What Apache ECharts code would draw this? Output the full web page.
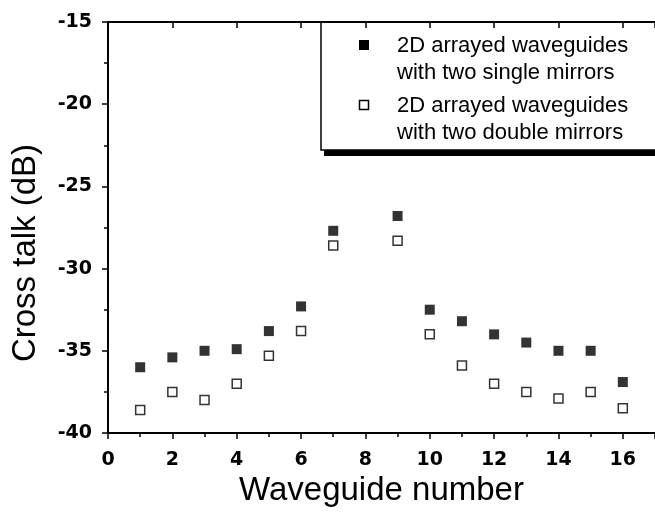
<!DOCTYPE html>
<html>
<head>
<meta charset="utf-8">
<script src="https://cdn.jsdelivr.net/npm/echarts@6/dist/echarts.min.js"></script>
<style>
    html,body{margin:0;padding:0;background:#fff;}
    #chart{width:655px;height:518px;}
</style>
</head>
<body>
<div id="chart"></div>
<script>
// waveguide numbers (no point at 8)
const waveguides = [1, 2, 3, 4, 5, 6, 7, 9, 10, 11, 12, 13, 14, 15, 16];
const singleMirrors = [-36.0, -35.4, -35.0, -34.9, -33.8, -32.3, -27.7, -26.8, -32.5, -33.2, -34.0, -34.5, -35.0, -35.0, -36.9];
const doubleMirrors = [-38.6, -37.5, -38.0, -37.0, -35.3, -33.8, -28.6, -28.3, -34.0, -35.9, -37.0, -37.5, -37.9, -37.5, -38.5];
const legendNames = ["2D arrayed waveguides\nwith two single mirrors", "2D arrayed waveguides\nwith two double mirrors"];

const font = "Liberation Sans, Arial, sans-serif";
const tickFont = "DejaVu Sans, sans-serif";
let chart = echarts.init(document.getElementById("chart"));

function pairs(xs, ys){
    return xs.map((x, i) => [x, ys[i]]);
}

chart.setOption({
    animation: false,
    backgroundColor: "#fff",
    grid: { left: 108, top: 22, width: 549, height: 411 },
    xAxis: [
        {
            type: "value", min: 0, max: 17, interval: 2,
            name: "Waveguide number", nameLocation: "middle", nameGap: 37,
            nameTextStyle: { fontFamily: font, fontSize: 33, color: "#000" },
            axisLine: { lineStyle: { color: "#000", width: 2 } },
            axisTick: { length: 6, lineStyle: { color: "#000", width: 1.5 } },
            minorTick: { show: true, splitNumber: 2, length: 4, lineStyle: { color: "#000", width: 1.5 } },
            axisLabel: { showMaxLabel: false, margin: 18, fontFamily: tickFont, fontWeight: "bold", fontSize: 19, color: "#000" },
            splitLine: { show: false }
        },
        {
            type: "value", min: 0, max: 17, interval: 2, position: "top",
            axisLine: { lineStyle: { color: "#000", width: 2 } },
            axisTick: { inside: true, length: 6, lineStyle: { color: "#000", width: 1.5 } },
            axisLabel: { show: false },
            splitLine: { show: false }
        }
    ],
    yAxis: [
        {
            type: "value", min: -40, max: -15, interval: 5,
            axisLine: { show: true, lineStyle: { color: "#000", width: 2 } },
            axisTick: { show: true, length: 6, lineStyle: { color: "#000", width: 1.5 } },
            minorTick: { show: true, splitNumber: 2, length: 4, lineStyle: { color: "#000", width: 1.5 } },
            axisLabel: { margin: 16, fontFamily: tickFont, fontWeight: "bold", fontSize: 19, color: "#000" },
            splitLine: { show: false }
        },
        {
            type: "value", min: -40, max: -15, interval: 5, position: "right",
            axisLine: { show: true, lineStyle: { color: "#000", width: 2 } },
            axisTick: { show: true, inside: true, length: 6, lineStyle: { color: "#000", width: 1.5 } },
            axisLabel: { show: false },
            splitLine: { show: false }
        }
    ],
    graphic: [
        {
            type: "text", x: 26, y: 253, rotation: Math.PI / 2,
            style: { text: "Cross talk (dB)", font: "33px " + font, fill: "#000", textAlign: "center", textVerticalAlign: "middle" }
        },
        {
            // legend box with its offset shadow
            type: "group", x: 321, y: 22,
            children: [
                { type: "rect", shape: { x: 3, y: 6, width: 360, height: 128 }, style: { fill: "#000" } },
                { type: "rect", shape: { x: 0, y: 0, width: 360, height: 128 }, style: { fill: "#fff", stroke: "#000", lineWidth: 1.5 } },
                { type: "rect", shape: { x: 38, y: 18, width: 10, height: 10 }, style: { fill: "#000" } },
                { type: "text", style: { x: 76, y: 10, text: legendNames[0], font: "22px " + font, lineHeight: 27, fill: "#000" } },
                { type: "rect", shape: { x: 38.5, y: 78.5, width: 9, height: 9 }, style: { fill: "#fff", stroke: "#000", lineWidth: 1.5 } },
                { type: "text", style: { x: 76, y: 70, text: legendNames[1], font: "22px " + font, lineHeight: 27, fill: "#000" } }
            ]
        }
    ],
    series: [
        {
            type: "scatter", name: legendNames[0],
            data: pairs(waveguides, singleMirrors),
            symbol: "rect", symbolSize: 10,
            itemStyle: { color: "#000" }
        },
        {
            type: "scatter", name: legendNames[1],
            data: pairs(waveguides, doubleMirrors),
            symbol: "rect", symbolSize: 9,
            itemStyle: { color: "#fff", borderColor: "#000", borderWidth: 1.5 }
        }
    ]
});
</script>
</body>
</html>
